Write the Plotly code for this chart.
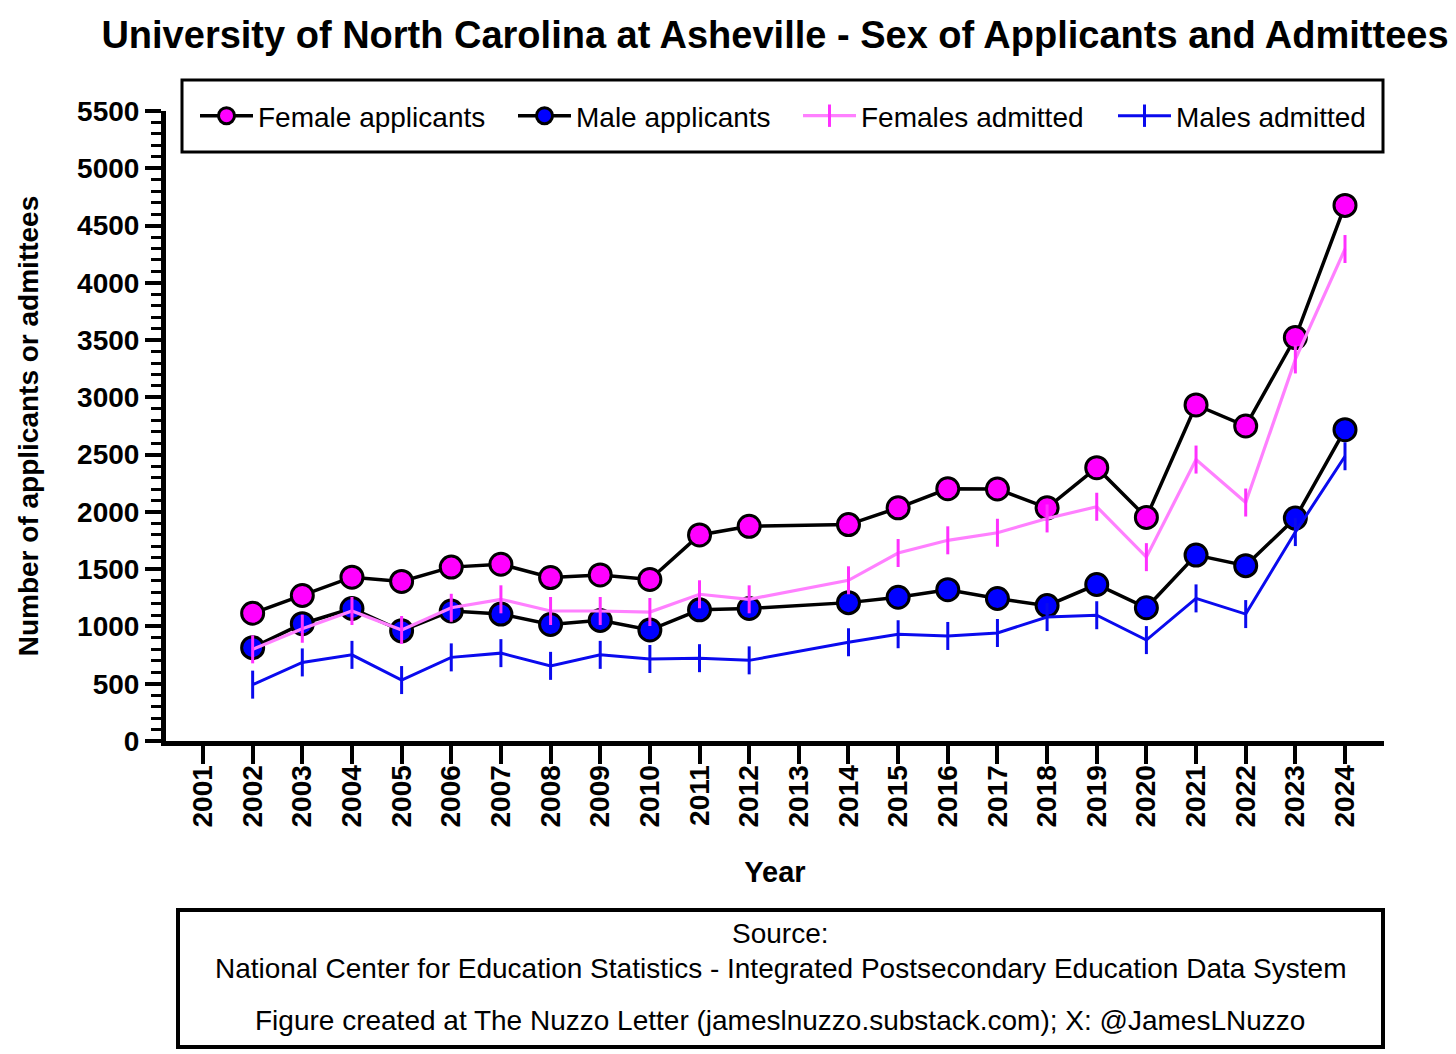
import plotly.graph_objects as go

# ---------------- data ----------------
years = [2002, 2003, 2004, 2005, 2006, 2007, 2008, 2009, 2010, 2011, 2012,
         2014, 2015, 2016, 2017, 2018, 2019, 2020, 2021, 2022, 2023, 2024]
female_applicants = [1115, 1270, 1430, 1393, 1518, 1543, 1427, 1450, 1410, 1799, 1874,
                     1889, 2036, 2202, 2200, 2036, 2386, 1952, 2934, 2750, 3522, 4676]
male_applicants = [815, 1024, 1157, 962, 1135, 1108, 1017, 1053, 969, 1145, 1157,
                   1208, 1255, 1321, 1244, 1182, 1366, 1163, 1623, 1531, 1946, 2718]
females_admitted = [800, 980, 1135, 969, 1163, 1237, 1135, 1135, 1126, 1281, 1237,
                    1403, 1641, 1752, 1818, 1943, 2045, 1605, 2457, 2082, 3331, 4295]
males_admitted = [492, 686, 752, 532, 730, 767, 656, 752, 716, 723, 704,
                  862, 932, 917, 943, 1082, 1098, 881, 1245, 1108, 1824, 2486]
x_ticks = list(range(2001, 2025))
y_ticks = list(range(0, 5501, 500))
series_names = ["Female applicants", "Male applicants", "Females admitted", "Males admitted"]

title_text = "University of North Carolina at Asheville - Sex of Applicants and Admittees"
source_lines = [
    "Source:",
    "National Center for Education Statistics - Integrated Postsecondary Education Data System",
    "Figure created at The Nuzzo Letter (jameslnuzzo.substack.com); X: @JamesLNuzzo",
]

# ---------------- layout geometry (pixels) ----------------
W, H = 1456, 1054
L, RIGHT_EDGE, T, BOTTOM_EDGE = 166, 1384, 111, 741
PW, PH = RIGHT_EDGE - L, BOTTOM_EDGE - T
PX_PER_YEAR = (1345 - 203) / 23.0
X0 = 2001 - (203 - L) / PX_PER_YEAR
X1 = 2024 + (RIGHT_EDGE - 1345) / PX_PER_YEAR
FONT = "Liberation Sans, Arial, Helvetica, sans-serif"


def px_x(px):
    return (px - L) / PW


def px_y(py):
    return (BOTTOM_EDGE - py) / PH


fig = go.Figure()

fig.add_trace(go.Scatter(
    x=years, y=female_applicants, name=series_names[0], mode="lines+markers", legend="legend",
    line=dict(color="black", width=3.5),
    marker=dict(symbol="circle", size=22, color="#FF00FF", line=dict(color="black", width=3)),
))
fig.add_trace(go.Scatter(
    x=years, y=male_applicants, name=series_names[1], mode="lines+markers", legend="legend2",
    line=dict(color="black", width=3.5),
    marker=dict(symbol="circle", size=22, color="#0000FF", line=dict(color="black", width=3)),
))
fig.add_trace(go.Scatter(
    x=years, y=females_admitted, name=series_names[2], mode="lines+markers", legend="legend3",
    line=dict(color="#FF80FF", width=3.2),
    marker=dict(symbol="line-ns", size=20, color="#FF30FF", line=dict(color="#FF30FF", width=3)),
))
fig.add_trace(go.Scatter(
    x=years, y=males_admitted, name=series_names[3], mode="lines+markers", legend="legend4",
    line=dict(color="#0A0AEE", width=3),
    marker=dict(symbol="line-ns", size=20, color="#0A0AEE", line=dict(color="#0A0AEE", width=3)),
))


def legend_at(px_start):
    return dict(orientation="h", x=px_x(px_start), xanchor="left", y=px_y(116), yanchor="middle",
                font=dict(family=FONT, size=28, color="black"), bgcolor="rgba(0,0,0,0)",
                borderwidth=0, itemwidth=53)


fig.update_layout(
    width=W, height=H,
    margin=dict(l=L, r=W - RIGHT_EDGE, t=T, b=H - BOTTOM_EDGE, autoexpand=False),
    plot_bgcolor="white", paper_bgcolor="white",
    font=dict(family=FONT, color="black"),
    title=dict(text=title_text, x=775 / W, xanchor="center", y=1 - 35 / H, yanchor="middle",
               xref="container", yref="container",
               font=dict(family=FONT, size=38, weight=700, color="black")),
    showlegend=True,
    legend=legend_at(195),
    legend2=legend_at(513),
    legend3=legend_at(798),
    legend4=legend_at(1113),
)

fig.update_xaxes(
    range=[X0, X1], tickmode="array", tickvals=x_ticks, ticktext=[str(v) for v in x_ticks],
    tickangle=-90, ticks="outside", ticklen=18, tickwidth=4, tickcolor="black",
    ticklabelstandoff=-10,
    tickfont=dict(family=FONT, size=28, weight=700, color="black"),
    showline=True, linewidth=5, linecolor="black", showgrid=False, zeroline=False,
    title=dict(text="Year", standoff=37, font=dict(family=FONT, size=29, weight=700, color="black")),
)
fig.update_yaxes(
    range=[0, 5500], tickmode="array", tickvals=y_ticks, ticks="outside", ticklen=16, tickwidth=4,
    tickcolor="black",
    tickfont=dict(family=FONT, size=28, weight=700, color="black"),
    minor=dict(dtick=100, ticks="outside", ticklen=10, tickwidth=3, tickcolor="black", showgrid=False),
    showline=True, linewidth=5, linecolor="black", showgrid=False, zeroline=False,
    title=dict(text="Number of applicants or admittees", standoff=32,
               font=dict(family=FONT, size=28, weight=700, color="black")),
)

# legend frame
fig.add_shape(type="rect", xref="paper", yref="paper",
              x0=px_x(182), x1=px_x(1383), y0=px_y(152), y1=px_y(80),
              line=dict(color="black", width=3), fillcolor="rgba(0,0,0,0)", layer="above")
# source frame
fig.add_shape(type="rect", xref="paper", yref="paper",
              x0=px_x(178), x1=px_x(1383), y0=px_y(1047), y1=px_y(910),
              line=dict(color="black", width=4), fillcolor="rgba(0,0,0,0)", layer="above")
for txt, cy in zip(source_lines, [933, 968, 1020]):
    fig.add_annotation(text=txt, xref="paper", yref="paper", x=px_x(780), y=px_y(cy),
                       xanchor="center", yanchor="middle", showarrow=False,
                       font=dict(family=FONT, size=28, color="black"))

fig.write_html("out.html", config={"displayModeBar": False},
               post_script="document.body.style.margin='0px';")
